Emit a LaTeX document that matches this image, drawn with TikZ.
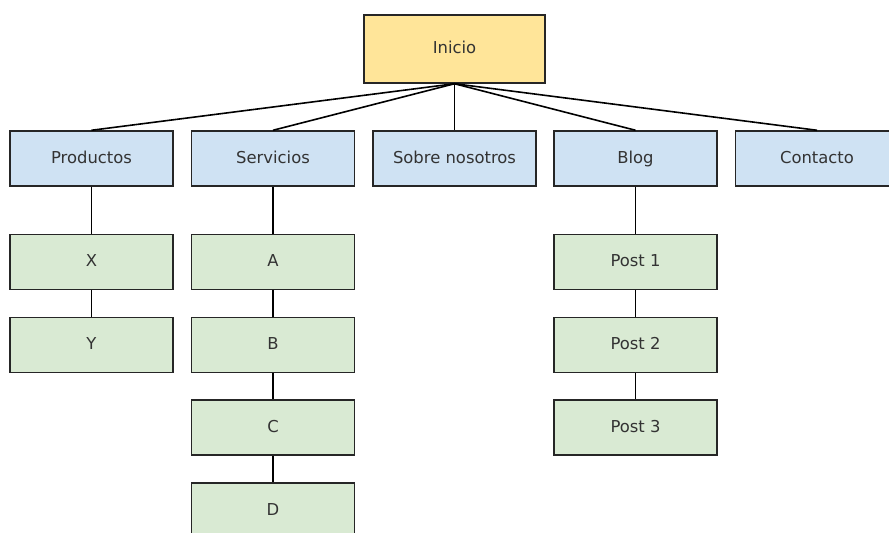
\documentclass[tikz,border=0pt]{standalone}
\usepackage{fontspec}
\setmainfont{DejaVu Sans}
\usepackage{xcolor}

\definecolor{rootfill}{HTML}{FFE599}
\definecolor{menufill}{HTML}{CFE2F3}
\definecolor{pagefill}{HTML}{D9EAD3}
\definecolor{boxtext}{HTML}{333333}

\begin{document}
\begin{tikzpicture}[x=0.75pt, y=-0.75pt]
    \tikzstyle{sitebox}=[draw=black!85, line width=1.1pt, inner sep=0pt, text=boxtext,
        text height=0.9em, text depth=0.2em, font=\fontsize{12.3}{14}\selectfont]
    \tikzstyle{rootbox}=[sitebox, fill=rootfill, minimum width=135.75pt, minimum height=51pt]
    \tikzstyle{menubox}=[sitebox, fill=menufill, minimum width=122.25pt, minimum height=41.25pt]
    \tikzstyle{pagebox}=[sitebox, fill=pagefill, minimum width=122.25pt, minimum height=41.25pt]
    \tikzstyle{link}=[line width=1.2pt, black]

    \useasboundingbox (0,0) rectangle (889,532);
    \clip (0,0) rectangle (889,532);

    % home
    \node[rootbox] (inicio) at (454.5, 49) {Inicio};

    % main menu
    \node[menubox] (productos) at (91.5, 158.5) {Productos};
    \node[menubox] (servicios) at (273, 158.5) {Servicios};
    \node[menubox] (nosotros) at (454.5, 158.5) {Sobre nosotros};
    \node[menubox] (blog) at (635.5, 158.5) {Blog};
    \node[menubox] (contacto) at (817, 158.5) {Contacto};

    % sub pages
    \node[pagebox] (x) at (91.5, 262) {X};
    \node[pagebox] (y) at (91.5, 345) {Y};

    \node[pagebox] (a) at (273, 262) {A};
    \node[pagebox] (b) at (273, 345) {B};
    \node[pagebox] (c) at (273, 427.5) {C};
    \node[pagebox] (d) at (273, 510.5) {D};

    \node[pagebox] (post1) at (635.5, 262) {Post 1};
    \node[pagebox] (post2) at (635.5, 345) {Post 2};
    \node[pagebox] (post3) at (635.5, 427.5) {Post 3};

    % links from home
    \foreach \m in {productos, servicios, nosotros, blog, contacto}
        \draw[link] (inicio.south) -- (\m.north);

    % links down each column
    \draw[link] (productos) -- (x) -- (y);
    \draw[link] (servicios) -- (a) -- (b) -- (c) -- (d);
    \draw[link] (blog) -- (post1) -- (post2) -- (post3);

\end{tikzpicture}
\end{document}
